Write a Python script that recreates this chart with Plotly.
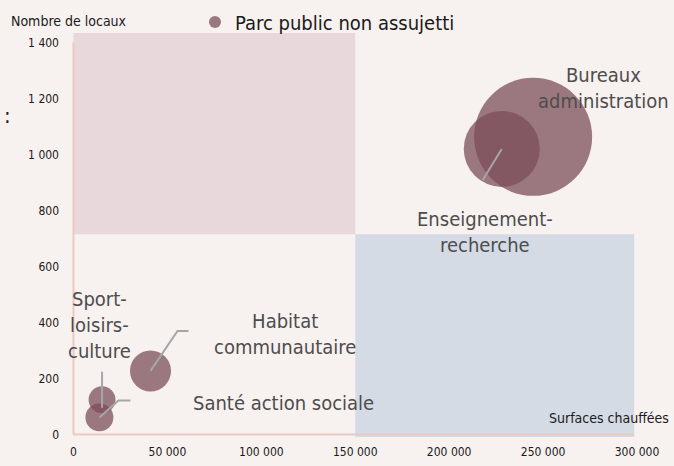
import plotly.graph_objects as go

# ---- data ----
categories = ["Bureaux administration", "Enseignement-recherche", "Habitat communautaire",
              "Sport-loisirs-culture", "Santé action sociale"]
surfaces = [244700, 228000, 41000, 15200, 13800]          # Surfaces chauffées
locaux = [1063, 1020, 227, 124, 61]                      # Nombre de locaux
taille = [100, 41.5, 12.1, 5.2, 5.6]                     # taille relative des bulles

label_text = ["Bureaux<br>administration", "Enseignement-<br>recherche", "Habitat<br>communautaire",
              "Sport-<br>loisirs-<br>culture", "Santé action sociale"]
label_x = [281900, 219100, 112600, 14100, 111700]
label_y = [1237, 723, 359, 391, 112]

x_tickvals = [0, 50000, 100000, 150000, 200000, 250000, 300000]
x_ticktext = ["0", "50 000", "100 000", "150 000", "200 000", "250 000", "300 000"]
y_tickvals = [0, 200, 400, 600, 800, 1000, 1200, 1400]
y_ticktext = ["0", "200", "400", "600", "800", "1 000", "1 200", "1 400"]

series_name = "Parc public non assujetti"

# ---- layout constants ----
FONT = "DejaVu Sans Condensed, Roboto, sans-serif"
BG = "#f7f1ef"
BUBBLE = "rgb(123,77,88)"
XMIN, XMAX = -7187, 306920
YMIN, YMAX = -9, 1434
L, R, T, B = 60, 24, 33, 29
W, H = 674, 466
PXX = (W - L - R) / (XMAX - XMIN)
PXY = (H - T - B) / (YMAX - YMIN)

# leader-line pixel offsets from bubble centres (index -> list of (dx, dy) in px)
leader_px = {
    1: [(0, 0), (-19, 31)],
    2: [(0, 0), (27, -40), (38, -40)],
    3: [(0, 8), (0, -28)],
    4: [(0, 0), (19, -17), (31, -17)],
}

fig = go.Figure()

fig.add_trace(go.Scatter(
    x=surfaces, y=locaux, mode="markers", name=series_name,
    text=categories,
    marker=dict(size=taille, sizemode="area", sizeref=2 * 100 / 118 ** 2,
                color=BUBBLE, opacity=0.74, line=dict(width=0)),
))

# leader lines
for i, pts in leader_px.items():
    fig.add_trace(go.Scatter(
        x=[surfaces[i] + dx / PXX for dx, dy in pts],
        y=[locaux[i] - dy / PXY for dx, dy in pts],
        mode="lines", line=dict(color="#a6a6a6", width=2),
        showlegend=False, hoverinfo="skip"))

shapes = [
    dict(type="rect", xref="x", yref="y", x0=0, x1=150000, y0=715, y1=YMAX,
         fillcolor="#e8d8db", line=dict(width=0), layer="below"),
    dict(type="rect", xref="x", yref="y", x0=150000, x1=298500, y0=YMIN, y1=715,
         fillcolor="#d5dbe5", line=dict(width=0), layer="below"),
    dict(type="line", xref="x", yref="y", x0=0, x1=0, y0=0, y1=1400,
         line=dict(color="#ecc8c0", width=2), layer="below"),
    dict(type="line", xref="x", yref="y", x0=0, x1=298500, y0=0, y1=0,
         line=dict(color="#ecc8c0", width=2), layer="below"),
]

annotations = []
for t, x, y in zip(label_text, label_x, label_y):
    annotations.append(dict(x=x, y=y, xref="x", yref="y", text=t, showarrow=False,
                            font=dict(family=FONT, size=20, color="#4d4d4d"),
                            align="center"))
pix_annots = [
    dict(x=9, y=21, text="Nombre de locaux", showarrow=False,
         font=dict(family=FONT, size=14, color="#1a1a1a"), xanchor="left", yanchor="middle"),
    dict(x=671, y=418, text="Surfaces chauffées", showarrow=False,
         font=dict(family=FONT, size=14, color="#1a1a1a"), xanchor="right", yanchor="middle"),
    dict(x=7, y=116, text=":", showarrow=False,
         font=dict(family=FONT, size=22, color="#1a1a1a"), xanchor="center", yanchor="middle"),
]
for a in pix_annots:
    a["xref"] = "paper"
    a["yref"] = "paper"
    a["x"] = (a["x"] - L) / (W - L - R)
    a["y"] = 1 - (a["y"] - T) / (H - T - B)
annotations += pix_annots

fig.update_layout(
    width=W, height=H,
    margin=dict(l=L, r=R, t=T, b=B, autoexpand=False),
    paper_bgcolor=BG, plot_bgcolor=BG,
    font=dict(family=FONT, color="#1a1a1a"),
    showlegend=True,
    legend=dict(orientation="h", x=(195 - L) / (W - L - R), xanchor="left",
                y=1 + (T - 22) / (H - T - B), yanchor="middle",
                font=dict(family=FONT, size=20, color="#1a1a1a"),
                itemsizing="constant", bgcolor="rgba(0,0,0,0)"),
    xaxis=dict(range=[XMIN, XMAX], tickvals=x_tickvals, ticktext=x_ticktext,
               showgrid=False, zeroline=False, showline=False, ticks="",
               ticklabelstandoff=6,
               tickfont=dict(family=FONT, size=12, color="#1a1a1a")),
    yaxis=dict(range=[YMIN, YMAX], tickvals=y_tickvals, ticktext=y_ticktext,
               showgrid=False, zeroline=False, showline=False, ticks="",
               tickfont=dict(family=FONT, size=12, color="#1a1a1a")),
    shapes=shapes, annotations=annotations,
)

fig.write_html("out.html", config={"displayModeBar": False},
               post_script="document.body.style.margin='0';")
